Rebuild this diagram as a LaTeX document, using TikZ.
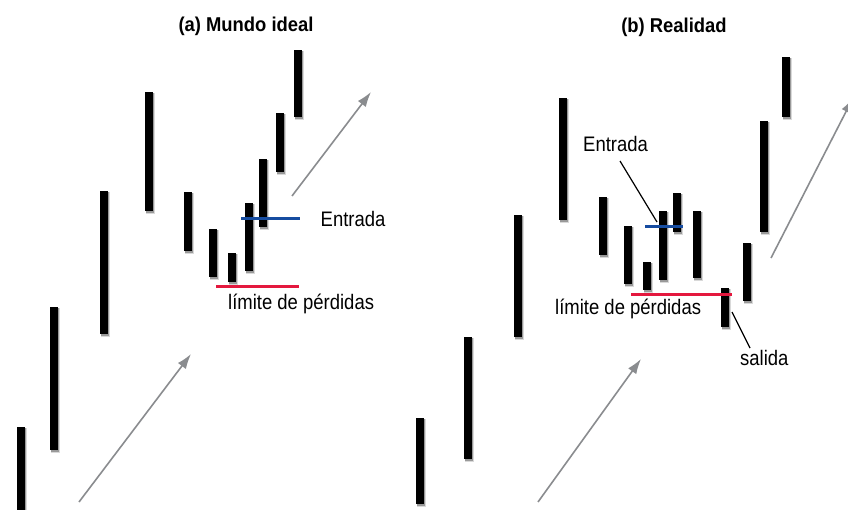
\documentclass[tikz,border=0pt]{standalone}
\usepackage{fontspec}
\setmainfont{Liberation Sans}
\newfontfamily\lblfont[FakeStretch=0.88]{Liberation Sans}
\newfontfamily\ttlfont[FakeStretch=0.92]{Liberation Sans}
\usetikzlibrary{arrows.meta}
\definecolor{arrowgray}{RGB}{138,140,143}
\definecolor{entryblue}{RGB}{22,76,160}
\definecolor{stopred}{RGB}{228,24,62}
\tikzset{
  ttl/.style={inner sep=0pt, anchor=base, font=\ttlfont\bfseries\fontsize{20}{22}\selectfont},
  lbl/.style={inner sep=0pt, anchor=base west, font=\lblfont\fontsize{21}{24}\selectfont},
  trend/.style={draw=arrowgray, line width=1.6pt, -{Latex[length=15pt,width=10pt]}},
  entryline/.style={draw=entryblue, line width=3pt},
  stopline/.style={draw=stopred, line width=3pt},
  leader/.style={draw=black, line width=1.2pt},
}
\newcommand\cbar[3]{%
  \fill[black!15] (#1+1.2,#2+1.2) rectangle (#1+10,#3+2.8);
  \fill[black!40] (#1+1,#2+1) rectangle (#1+9,#3+2);
  \fill[black] (#1,#2) rectangle (#1+7.5,#3);
}
\begin{document}
\begin{tikzpicture}[x=1pt,y=-1pt]
\useasboundingbox[fill=white] (0,0) rectangle (848,510);
% ---- left panel
\node[ttl] (ta) at (246,31.7) {(a) Mundo ideal};
\foreach \x/\t/\b in {17/427/512,50/307/450,100/191/334,145/92/211,184/192/251,209/229/277,228/253/282,245/203/271,259/159/227,276/113/172,294/50/117}{\cbar{\x}{\t}{\b}}
\coordinate (la1) at (79,502); \coordinate (la2) at (191,354);
\coordinate (lb1) at (292,196); \coordinate (lb2) at (371,92);
\draw[trend] (la1) -- (la2);
\draw[trend] (lb1) -- (lb2);
\coordinate (le1) at (241,219); \coordinate (le2) at (300,219);
\draw[entryline] (le1) -- (le2);
\coordinate (ls1) at (216,287); \coordinate (ls2) at (299,287);
\draw[stopline] (ls1) -- (ls2);
\node[lbl] (entA) at (320.5,226.7) {Entrada};
\node[lbl] (limA) at (228,310) {límite de pérdidas};
% ---- right panel
\node[ttl] (tb) at (674,33) {(b) Realidad};
\foreach \x/\t/\b in {416/418/504,464/337/459,514/215/337,559/98/220,599/197/255,624/226/284,643/262/290,659/211/280,673/193/232,693/211/278,721/288/327,743/243/301,760/121/232,782/57/117}{\cbar{\x}{\t}{\b}}
\coordinate (ra1) at (538,502); \coordinate (ra2) at (641,359);
\coordinate (rb1) at (771,258); \coordinate (rb2) at (853,98);
\draw[trend] (ra1) -- (ra2);
\draw[trend] (rb1) -- (rb2);
\coordinate (re1) at (645,227); \coordinate (re2) at (683,227);
\draw[entryline] (re1) -- (re2);
\coordinate (rs1) at (631,295); \coordinate (rs2) at (732,295);
\draw[stopline] (rs1) -- (rs2);
\node[lbl] (entB) at (583,151.7) {Entrada};
\node[lbl] (limB) at (555,315) {límite de pérdidas};
\node[lbl] (salB) at (740,365) {salida};
\coordinate (lead1a) at (620,161); \coordinate (lead1b) at (657,222);
\draw[leader] (lead1a) -- (lead1b);
\coordinate (lead2a) at (732,312); \coordinate (lead2b) at (750,348);
\draw[leader] (lead2a) -- (lead2b);
\end{tikzpicture}
\end{document}
